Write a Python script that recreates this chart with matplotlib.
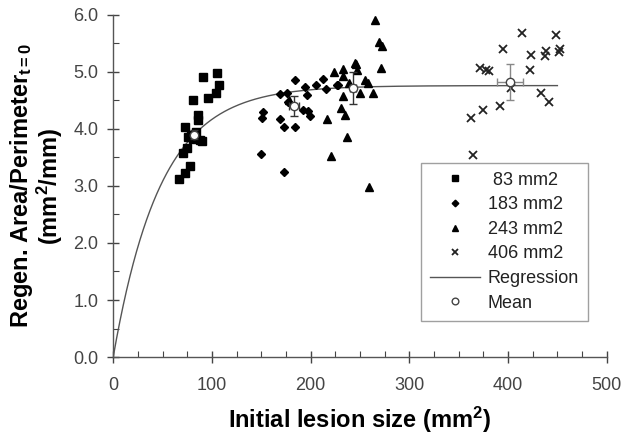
import numpy as np
import matplotlib
matplotlib.use("Agg")
import matplotlib.pyplot as plt
from matplotlib.ticker import MultipleLocator

plt.rcParams["font.family"] = ["Liberation Sans", "DejaVu Sans"]
plt.rcParams["mathtext.fontset"] = "custom"
plt.rcParams["mathtext.rm"] = "Liberation Sans"
plt.rcParams["mathtext.bf"] = "Liberation Sans:bold"
plt.rcParams["mathtext.it"] = "Liberation Sans:italic"

# ---- data ----
sq_x = [90.8, 105.6, 107.0, 104.3, 95.8, 80.7, 85.7, 85.7, 72.9, 76.2, 89.8, 81.3, 74.6, 71.2, 77.3, 72.9, 67.1, 84.0, 88.0, 79.0]
sq_y = [4.91, 4.98, 4.77, 4.63, 4.54, 4.51, 4.25, 4.16, 4.04, 3.86, 3.78, 3.83, 3.66, 3.57, 3.35, 3.22, 3.13, 3.95, 3.80, 3.90]

di_x = [149.5, 173.0, 152.0, 150.5, 169.0, 173.0, 184.0, 184.0, 169.0, 175.8, 177.5, 194.3, 196.0, 205.5, 212.9, 215.6, 227.0, 192.6, 197.7, 199.4, 228.0]
di_y = [3.56, 3.25, 4.30, 4.19, 4.17, 4.04, 4.04, 4.85, 4.61, 4.63, 4.48, 4.73, 4.60, 4.77, 4.87, 4.70, 4.77, 4.34, 4.32, 4.23, 4.77]

tr_x = [265.0, 269.5, 272.0, 270.9, 246.0, 247.3, 255.0, 258.4, 250.0, 263.5, 223.7, 233.0, 232.5, 245.0, 239.0, 233.0, 230.4, 234.8, 216.3, 237.2, 220.3, 259.4, 178.0]
tr_y = [5.91, 5.53, 5.46, 5.06, 5.14, 5.03, 4.86, 4.80, 4.63, 4.63, 5.00, 5.05, 4.92, 5.15, 4.80, 4.57, 4.36, 4.25, 4.17, 3.85, 3.53, 2.98, 4.50]

cr_x = [414.6, 448.4, 395.0, 422.8, 438.3, 437.2, 452.4, 371.5, 378.0, 380.9, 422.0, 402.5, 433.9, 441.6, 391.7, 374.8, 362.0, 364.0, 452.0]
cr_y = [5.68, 5.64, 5.41, 5.30, 5.37, 5.27, 5.41, 5.06, 5.04, 5.01, 5.04, 4.71, 4.63, 4.48, 4.40, 4.34, 4.19, 3.54, 5.35]

mean_x = [82, 183, 243, 402]
mean_y = [3.90, 4.40, 4.71, 4.82]
mean_xerr = [2, 5, 3, 13]
mean_yerr = [0.08, 0.18, 0.28, 0.32]

reg_a = 4.76   # plateau
reg_b = 48.0   # length scale
reg_xmax = 450

x_ticks = [0, 100, 200, 300, 400, 500]
y_ticks = [0, 1, 2, 3, 4, 5, 6]
y_ticklabels = ["0.0", "1.0", "2.0", "3.0", "4.0", "5.0", "6.0"]

# ---- figure ----
fig = plt.figure(figsize=(6.36, 4.37), dpi=100)
ax = fig.add_axes([0.178, 0.183, 0.776, 0.783])

xr = np.linspace(0, reg_xmax, 400)
ax.plot(xr, reg_a * (1 - np.exp(-xr / reg_b)), color="#555555", lw=1.0, label="Regression", zorder=2)

ax.plot(sq_x, sq_y, ls="none", marker="s", ms=5.5, color="black", label=" 83 mm2", zorder=3)
ax.plot(di_x, di_y, ls="none", marker="D", ms=4.2, color="black", label="183 mm2", zorder=3)
ax.plot(tr_x, tr_y, ls="none", marker="^", ms=5.5, color="black", label="243 mm2", zorder=3)
ax.plot(cr_x, cr_y, ls="none", marker="x", ms=5.5, mew=1.3, color="#222222", label="406 mm2", zorder=3)

ecols = ["#333333", "#333333", "#333333", "#888888"]
for i in range(len(mean_x)):
    ax.errorbar(mean_x[i], mean_y[i], xerr=mean_xerr[i], yerr=mean_yerr[i], fmt="none",
                ecolor=ecols[i], elinewidth=1.0, capsize=3, zorder=4)
ax.plot(mean_x, mean_y, ls="none", marker="o", ms=6, mfc="white", mec="#444444", mew=1.0,
        label="Mean", zorder=5)

ax.set_xlim(0, 500)
ax.set_ylim(0, 6)
ax.set_xticks(x_ticks)
ax.set_yticks(y_ticks)
ax.set_yticklabels(y_ticklabels)
ax.xaxis.set_minor_locator(MultipleLocator(25))
ax.yaxis.set_minor_locator(MultipleLocator(0.5))
ax.tick_params(which="major", direction="inout", length=9, width=1.0, color="#444444",
               labelsize=13, labelcolor="#444444")
ax.tick_params(axis="x", which="major", pad=10)
ax.tick_params(axis="y", which="major", pad=6)
ax.tick_params(which="minor", direction="in", length=4, width=0.8, color="#444444")
for s in ["top", "right"]:
    ax.spines[s].set_visible(False)
for s in ["left", "bottom"]:
    ax.spines[s].set_color("#555555")
    ax.spines[s].set_linewidth(1.0)

ax.set_xlabel("Initial lesion size (mm$^\\mathbf{2}$)", fontsize=17, fontweight="bold", labelpad=8)
ax.set_ylabel("Regen. Area/Perimeter$_{\\mathregular{t=0}}$\n(mm$^\\mathbf{2}$/mm)", fontsize=17,
              fontweight="bold", labelpad=6, linespacing=1.0)

handles, labels = ax.get_legend_handles_labels()
order = [labels.index(l) for l in [" 83 mm2", "183 mm2", "243 mm2", "406 mm2", "Regression", "Mean"]]
leg = ax.legend([handles[i] for i in order], [labels[i] for i in order],
                loc="lower left", bbox_to_anchor=(0.605, 0.08), fontsize=13,
                frameon=True, fancybox=False, edgecolor="#888888", markerscale=0.8,
                handlelength=2.8, labelspacing=0.42, borderpad=0.5, handletextpad=0.4)
leg.get_frame().set_linewidth(1.0)
for t in leg.get_texts():
    t.set_color("#222222")

fig.savefig("out.png", dpi=100)
